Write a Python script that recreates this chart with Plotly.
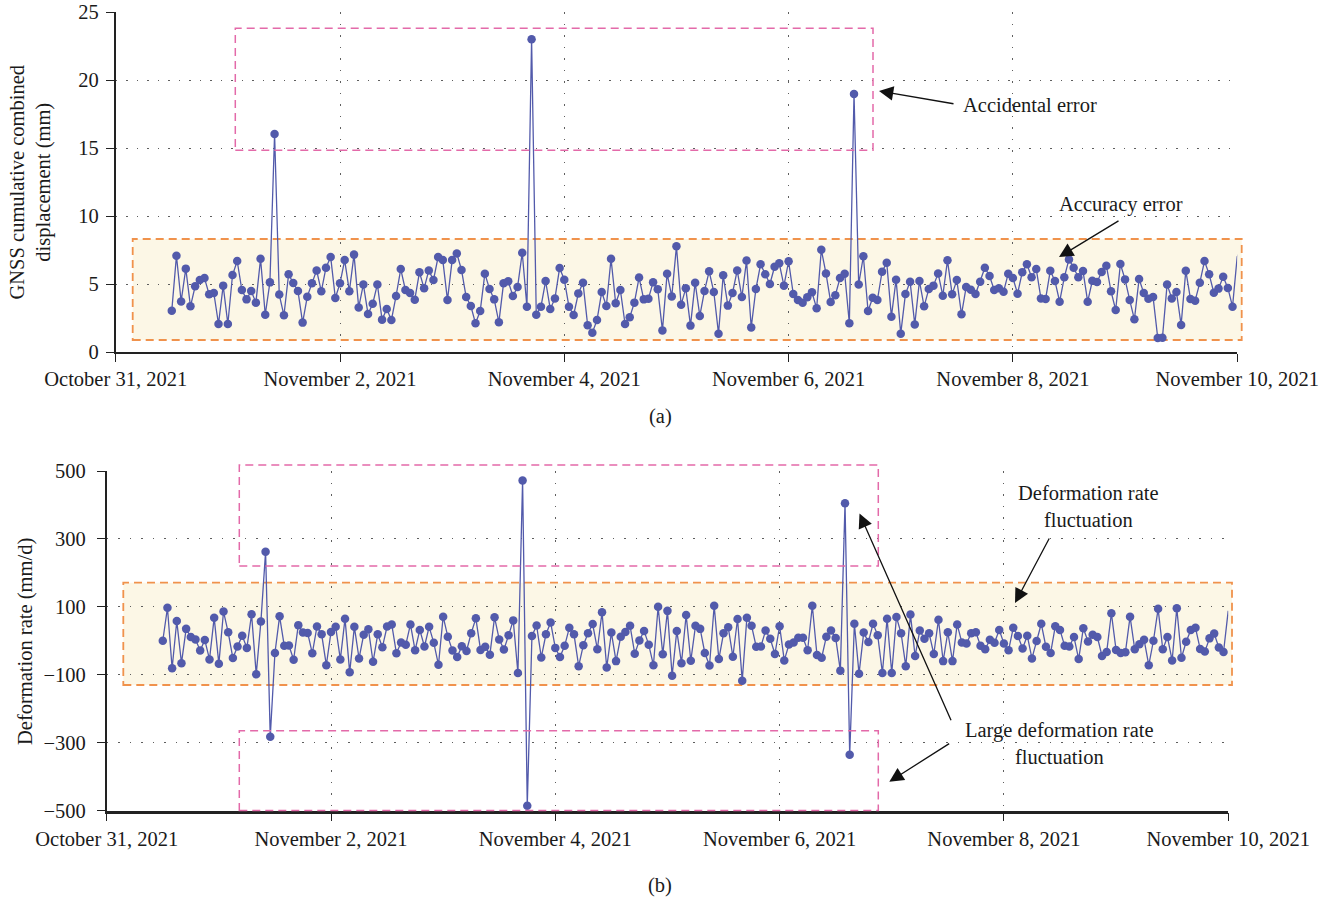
import pandas as pd
import plotly.graph_objects as go

# ---------------- data ----------------
start_time = "2021-10-31 12:00"   # first hourly sample

displacement_mm = [
    3.04, 7.08, 3.72, 6.13, 3.36, 4.83, 5.29, 5.44, 4.24, 4.34,
    2.06, 4.88, 2.06, 5.66, 6.69, 4.56, 3.87, 4.49, 3.63, 6.86,
    2.74, 5.12, 16.03, 4.22, 2.70, 5.71, 5.07, 4.49, 2.16, 4.07,
    5.05, 6.00, 4.46, 6.20, 6.99, 3.97, 5.05, 6.76, 4.46, 7.16,
    3.28, 4.97, 2.79, 3.55, 4.97, 2.38, 3.16, 2.35, 4.12, 6.10,
    4.56, 4.34, 3.85, 5.86, 4.68, 6.00, 5.29, 6.99, 6.76, 3.82,
    6.76, 7.25, 6.03, 4.04, 3.38, 2.11, 3.01, 5.76, 4.63, 3.87,
    2.18, 5.05, 5.20, 4.12, 4.78, 7.30, 3.33, 23.00, 2.74, 3.33,
    5.22, 3.16, 3.94, 6.18, 5.32, 3.33, 2.72, 4.31, 5.10, 1.96,
    1.42, 2.35, 4.41, 3.38, 6.86, 3.58, 4.56, 2.06, 2.55, 3.63,
    5.47, 3.87, 3.92, 5.12, 4.61, 1.59, 5.76, 4.09, 7.77, 3.48,
    4.68, 1.94, 5.10, 2.65, 4.49, 5.93, 4.41, 1.35, 5.64, 3.41,
    4.34, 6.00, 4.04, 6.72, 1.81, 4.63, 6.45, 5.71, 5.00, 6.27,
    6.52, 4.88, 6.67, 4.26, 3.82, 3.63, 4.02, 4.39, 3.21, 7.52,
    5.78, 3.68, 4.17, 5.44, 5.76, 2.11, 18.97, 4.97, 7.04, 3.01,
    3.99, 3.82, 5.90, 6.57, 2.60, 5.32, 1.35, 4.26, 5.17, 2.03,
    5.22, 3.36, 4.63, 4.88, 5.78, 4.14, 6.74, 4.24, 5.29, 2.77,
    4.78, 4.58, 4.26, 5.17, 6.20, 5.59, 4.56, 4.68, 4.43, 5.76,
    5.44, 4.29, 5.86, 6.45, 5.49, 6.10, 3.94, 3.90, 5.98, 5.22,
    3.70, 5.49, 6.81, 6.20, 5.49, 5.96, 3.70, 5.24, 5.15, 5.88,
    6.35, 4.46, 3.09, 6.47, 5.34, 3.82, 2.40, 5.37, 4.34, 3.92,
    4.04, 1.03, 1.05, 4.97, 3.94, 4.41, 1.99, 5.98, 3.90, 3.77,
    5.10, 6.69, 5.71, 4.36, 4.66, 5.54, 4.71, 3.33, 7.00, 7.67,
]

rate_mm_per_day = [
    0, 97, -81, 58, -66, 35, 11, 4, -29, 2,
    -55, 68, -68, 86, 25, -51, -17, 15, -21, 78,
    -99, 57, 262, -283, -36, 72, -15, -14, -56, 46,
    24, 23, -37, 42, 19, -72, 26, 41, -55, 65,
    -93, 41, -52, 18, 34, -62, 19, -19, 42, 48,
    -37, -5, -12, 48, -28, 32, -17, 41, -6, -71,
    71, 12, -29, -48, -16, -30, 22, 66, -27, -18,
    -41, 69, 4, -26, 16, 60, -95, 472, -486, 14,
    45, -49, 19, 54, -21, -48, -15, 38, 19, -75,
    -13, 22, 49, -25, 84, -79, 24, -60, 12, 26,
    44, -38, 1, 29, -12, -72, 100, -40, 88, -103,
    29, -66, 76, -59, 44, 35, -36, -73, 103, -54,
    22, 40, -47, 64, -118, 68, 44, -18, -17, 30,
    6, -39, 43, -58, -11, -5, 9, 9, -28, 103,
    -42, -50, 12, 30, 8, -88, 405, -336, 50, -97,
    24, -4, 50, 16, -95, 65, -95, 70, 22, -75,
    77, -45, 30, 6, 22, -39, 62, -60, 25, -60,
    48, -5, -8, 22, 25, -15, -25, 3, -6, 32,
    -8, -28, 38, 14, -23, 15, -52, -1, 50, -18,
    -36, 43, 32, -15, -17, 11, -54, 37, -2, 18,
    11, -45, -33, 81, -27, -36, -34, 71, -25, -10,
    3, -72, 0, 94, -25, 11, -58, 96, -50, -3,
    32, 38, -24, -32, 7, 21, -20, -33, 88, 16,
]

x_tick_dates = ["2021-10-31", "2021-11-02", "2021-11-04", "2021-11-06",
                "2021-11-08", "2021-11-10"]
x_tick_labels = ["October 31, 2021", "November 2, 2021", "November 4, 2021",
                 "November 6, 2021", "November 8, 2021", "November 10, 2021"]
top_y_ticks = [0, 5, 10, 15, 20, 25]
bottom_y_ticks = [-500, -300, -100, 100, 300, 500]

times = pd.date_range(start_time, periods=len(displacement_mm), freq="h")

# ---------------- styling ----------------
W, H = 1344, 898
FONT = "Liberation Serif, Times New Roman, serif"
FS = 20.5
TXT = "#1a1a1a"
LINE_C = "#525aab"
ORANGE = "#f0924c"
FILL = "#fcf7e6"
PINK = "#e36aa9"
GRID = "#5e5e5e"


def px(x):
    return x / W


def py(y):
    return 1 - y / H


n = len(displacement_mm)
msize = [8.5] * (n - 2) + [0, 0]

fig = go.Figure()
fig.add_trace(go.Scatter(
    x=times, y=displacement_mm, mode="lines+markers",
    line=dict(color=LINE_C, width=1.3),
    marker=dict(color=LINE_C, size=msize, line=dict(width=0), opacity=1),
    xaxis="x", yaxis="y", showlegend=False))
fig.add_trace(go.Scatter(
    x=times, y=rate_mm_per_day, mode="lines+markers",
    line=dict(color=LINE_C, width=1.3),
    marker=dict(color=LINE_C, size=msize, line=dict(width=0), opacity=1),
    xaxis="x2", yaxis="y2", showlegend=False))

common_axis = dict(
    showline=True, linecolor="#222222", ticks="outside", ticklen=8,
    tickwidth=1.4, tickcolor="#222222", zeroline=False, automargin=False,
    showgrid=True, gridcolor=GRID, gridwidth=1.4,
    tickfont=dict(family=FONT, size=FS, color=TXT),
)

fig.update_layout(
    template="none",
    width=W, height=H, margin=dict(l=0, r=0, t=0, b=0, pad=0),
    paper_bgcolor="white", plot_bgcolor="white",
    font=dict(family=FONT, size=FS, color=TXT),
    xaxis=dict(common_axis, domain=[px(115.7), px(1237.2)], anchor="y",
               range=["2021-10-31", "2021-11-10"], type="date",
               tickvals=x_tick_dates, ticktext=x_tick_labels,
               linewidth=1.6, griddash="1.5px,10px", ticklabelstandoff=0),
    yaxis=dict(common_axis, domain=[py(352), py(12)], anchor="x",
               range=[0, 25], tickvals=top_y_ticks, linewidth=1.6,
               griddash="1.5px,9px", ticklabelstandoff=3),
    xaxis2=dict(common_axis, domain=[px(106.7), px(1228.2)], anchor="y2",
                range=["2021-10-31", "2021-11-10"], type="date",
                tickvals=x_tick_dates, ticktext=x_tick_labels,
                linewidth=2.6, griddash="1.5px,10px", ticklabelstandoff=0),
    yaxis2=dict(common_axis, domain=[py(810.5), py(471)], anchor="x2",
                range=[-500, 500], tickvals=bottom_y_ticks, linewidth=1.6,
                griddash="1.5px,10px", ticklabelstandoff=7),
)


def rect(x0, y0, x1, y1, color, width, fill=None, layer="above"):
    return dict(type="rect", xref="paper", yref="paper",
                x0=px(x0), x1=px(x1), y0=py(y1), y1=py(y0),
                line=dict(color=color, width=width, dash="8px,5px"),
                fillcolor=fill if fill else "rgba(0,0,0,0)", layer=layer)


shapes = [
    rect(132.7, 239, 1241.7, 340, ORANGE, 1.8, FILL, "below"),
    rect(235.3, 28.3, 873, 150.3, PINK, 1.5),
    rect(123.3, 582.7, 1232, 685, ORANGE, 1.8, FILL, "below"),
    rect(239.3, 465, 878.3, 566, PINK, 1.5),
    rect(239.3, 730.7, 878.3, 810.5, PINK, 1.5),
]
fig.update_layout(shapes=shapes)


def label(x, y, text, angle=0):
    return dict(xref="paper", yref="paper", x=px(x), y=py(y), text=text,
                showarrow=False, textangle=angle, xanchor="center",
                yanchor="middle", font=dict(family=FONT, size=FS, color=TXT))


def arrow(tip_x, tip_y, tail_x, tail_y):
    return dict(xref="paper", yref="paper", x=px(tip_x), y=py(tip_y),
                ax=tail_x - tip_x, ay=tail_y - tip_y, axref="pixel",
                ayref="pixel", text="", showarrow=True, arrowhead=2,
                arrowsize=2.2, arrowwidth=1.3, arrowcolor="#111",
                standoff=0, startstandoff=0)


annotations = [
    label(30.5, 182, "GNSS cumulative combined<br>displacement (mm)", -90),
    label(25, 642, "Deformation rate (mm/d)", -90),
    label(660, 416, "(a)"),
    label(660, 885, "(b)"),
    label(1030, 105, "Accidental error"),
    label(1121, 205, "Accuracy error"),
    label(1088, 506, "Deformation rate<br>fluctuation"),
    label(1059, 743, "Large deformation rate<br>fluctuation"),
    arrow(879, 91, 955, 104),
    arrow(1059, 257, 1120, 220),
    arrow(1015, 603, 1050, 537),
    arrow(859.5, 513.5, 951.7, 721.7),
    arrow(889.3, 781.7, 950.7, 742.7),
]
fig.update_layout(annotations=annotations)

fig.write_html("out.html")
